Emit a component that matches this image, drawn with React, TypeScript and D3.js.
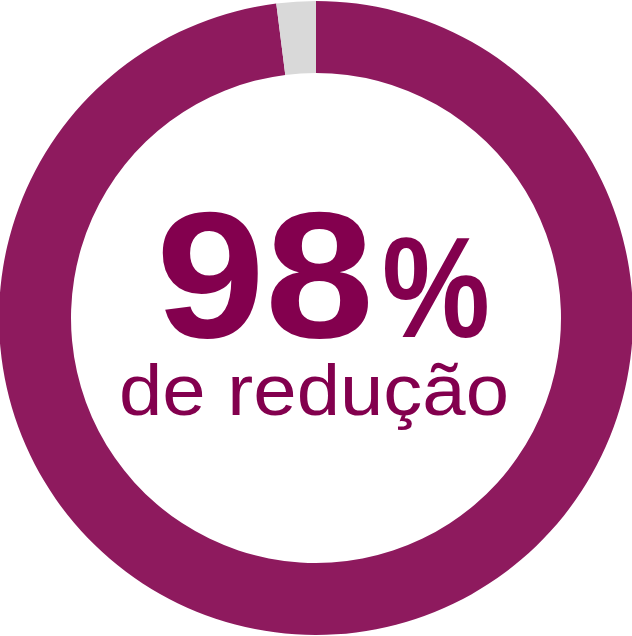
import React from "react";
import * as d3 from "d3";

const categories = ["Redução", "Restante"];
const values = [98, 2];
const colors = ["#8E1A5E", "#D9D9D9"];
const bigLabel = "98";
const pctLabel = "%";
const subLabel = "de redução";

const W = 632;
const H = 636;

export default function App() {
  const cx = 316;
  const cy = 318;
  const outerR = 317;
  const innerR = 245;
  const pie = d3
    .pie<number>()
    .sort(null)
    .value((d) => d);
  const arcs = pie(values);
  const arc = d3.arc<d3.PieArcDatum<number>>().innerRadius(innerR).outerRadius(outerR);
  const font = "'Liberation Sans', Arial, sans-serif";
  const textColor = "#83004E";
  return (
    <svg
      width={W}
      height={H}
      style={{ position: "absolute", left: 0, top: 0, display: "block" }}
    >
      <g transform={`translate(${cx},${cy})`}>
        {arcs.map((a, i) => (
          <path key={categories[i]} d={arc(a) || ""} fill={colors[i]} />
        ))}
      </g>
      <text
        x={156}
        y={337}
        fill={textColor}
        fontFamily={font}
        fontWeight="bold"
        fontSize={180}
        textLength={218}
        lengthAdjust="spacingAndGlyphs"
      >
        {bigLabel}
      </text>
      <text
        x={382}
        y={337}
        fill={textColor}
        fontFamily={font}
        fontWeight="bold"
        fontSize={142}
        textLength={108}
        lengthAdjust="spacingAndGlyphs"
      >
        {pctLabel}
      </text>
      <text
        x={119}
        y={415}
        fill={textColor}
        fontFamily={font}
        fontSize={73}
        textLength={390}
        lengthAdjust="spacingAndGlyphs"
      >
        {subLabel}
      </text>
    </svg>
  );
}
